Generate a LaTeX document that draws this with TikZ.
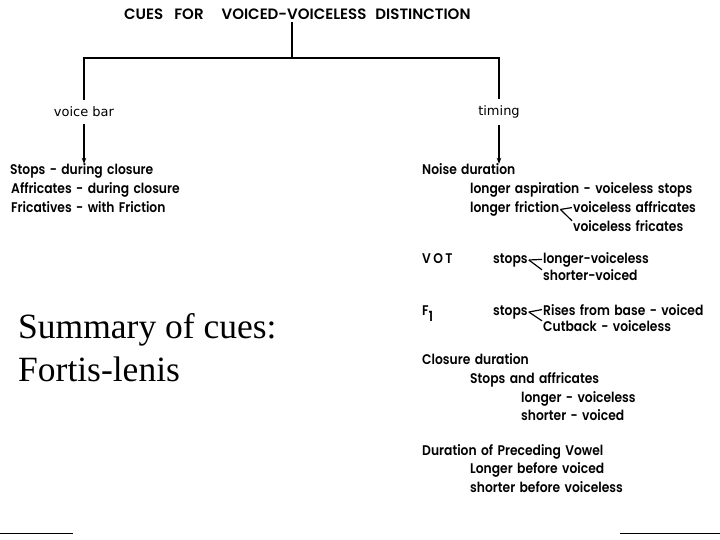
\documentclass[tikz,border=0pt]{standalone}
\usepackage{fontspec}
\usetikzlibrary{arrows.meta}
\newfontfamily\fut{Poppins SemiBold}[FakeStretch=0.88, WordSpace=1.5]
\newfontfamily\futt{Poppins SemiBold}
\newfontfamily\lblfont{DejaVu Sans}
\newfontfamily\serfont{Liberation Serif}
\begin{document}
\begin{tikzpicture}[x=1pt,y=-1pt,
  txt/.style={anchor=base west, inner sep=0pt, font=\fut\fontsize{14}{16}\selectfont},
  ttl/.style={anchor=base west, inner sep=0pt, font=\futt\fontsize{15}{17}\selectfont},
  lbl/.style={inner xsep=0pt, inner ysep=7pt, font=\lblfont\fontsize{13}{15}\selectfont},
  ln/.style={line width=1.7pt},
  arr/.style={line width=1.5pt, -{Stealth[length=6pt,width=4.5pt]}},
  brk/.style={line width=1.2pt},
  sumtxt/.style={anchor=base west, inner sep=0pt, font=\serfont\fontsize{35.5}{42}\selectfont},
  edge/.style={line width=0.9pt}
]
\useasboundingbox (0,0) rectangle (720,540);
\fill[white] (0,0) rectangle (720,540);

% title
\node[ttl] (title) at (124,20) {CUES\hspace{11pt}FOR\hspace{18pt}VOICED-VOICELESS\hspace{9pt}DISTINCTION};
\coordinate (jm) at (292,58);

% labels
\node[lbl] (vb) at (84,112) {voice bar};
\node[lbl] (tm) at (499,112) {timing};

\draw[ln] (jm |- title.south) ++(0,2) -- (jm);
\draw[ln] (vb.north) |- (jm) -| (tm.north);

% left block
\node[txt] (l1) at (10,175) {Stops - during closure};
\node[txt] (l2) at (11,194) {Affricates - during closure};
\node[txt] (l3) at (11,213) {Fricatives - with Friction};

% right block
\node[txt] (nd) at (422,175) {Noise duration};
\node[txt] (la) at (470,194) {longer aspiration - voiceless stops};
\node[txt] (lf) at (470,213) {longer friction};
\node[txt] (va) at (573,213) {voiceless affricates};
\node[txt] (vf) at (573,231) {voiceless fricates};

\node[txt] (vot) at (422,263) {V\,O\,T};
\node[txt] (s1) at (493,263) {stops};
\node[txt] (lv) at (543,263) {longer-voiceless};
\node[txt] (sv) at (543,280) {shorter-voiced};

\node[txt] (f1) at (422,315) {F\raisebox{-6pt}{1}};
\node[txt] (s2) at (493,315) {stops};
\node[txt] (rb) at (543,315) {Rises from base - voiced};
\node[txt] (cb) at (543,331) {Cutback - voiceless};

\node[txt] (cd) at (422,364) {Closure duration};
\node[txt] (sa) at (470,383) {Stops and affricates};
\node[txt] (lg) at (521,402) {longer - voiceless};
\node[txt] (sh) at (521,420) {shorter - voiced};

\node[txt] (dp) at (422,455) {Duration of Preceding Vowel};
\node[txt] (lb) at (470,473) {Longer before voiced};
\node[txt] (sb) at (470,492) {shorter before voiceless};

% arrows
\draw[arr] (vb.south) -- (vb.south |- l1.north);
\draw[arr] (tm.south) -- (tm.south |- nd.north);

% branch brackets
\draw[brk] ([xshift=1pt]lf.east) -- ([xshift=-1pt]va.west);
\draw[brk] ([xshift=1pt]lf.east) -- ([xshift=-1pt,yshift=-1pt]vf.north west);
\draw[brk] ([xshift=1pt]s1.east) -- ([xshift=-1pt]lv.west);
\draw[brk] ([xshift=1pt]s1.east) -- ([xshift=-1pt,yshift=-1pt]sv.north west);
\draw[brk] ([xshift=1pt]s2.east) -- ([xshift=-1pt]rb.west);
\draw[brk] ([xshift=1pt]s2.east) -- ([xshift=-1pt,yshift=-1pt]cb.north west);

% summary
\node[sumtxt] (sum1) at (18,338) {Summary of cues:};
\node[sumtxt] (sum2) at (18,381) {Fortis-lenis};

% bottom edges
\draw[edge] (0,533) -- (73,533);
\draw[edge] (620,533) -- (720,533);
\end{tikzpicture}
\end{document}
